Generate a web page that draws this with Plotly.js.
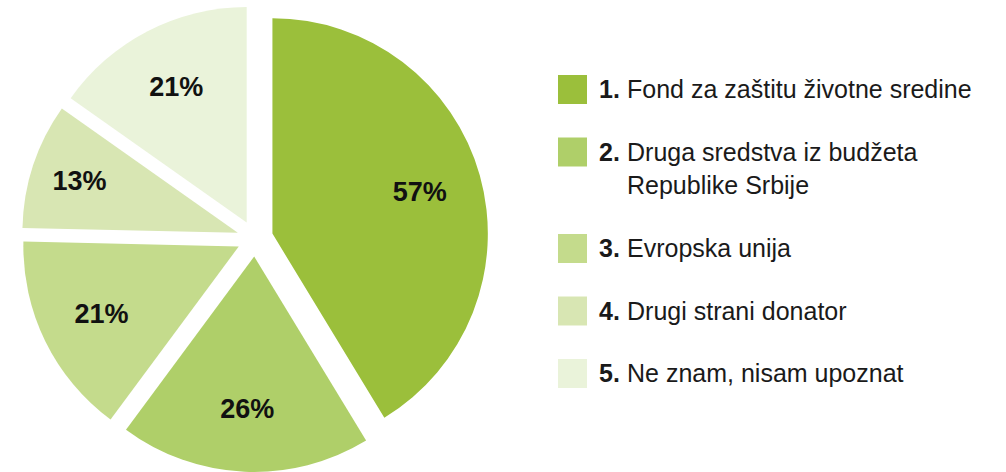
<!DOCTYPE html>
<html>
<head>
<meta charset="utf-8">
<script src="https://cdn.plot.ly/plotly-3.0.1.min.js"></script>
<style>
html, body { margin: 0; padding: 0; background: #ffffff; }
#chart { width: 1006px; height: 472px; }
</style>
</head>
<body>
<div id="chart"></div>
<script>
// ---- data ----
const legendNumbers = ['1.', '2.', '3.', '4.', '5.'];
const categories = [
  'Fond za zaštitu životne sredine',
  'Druga sredstva iz budžeta<br>Republike Srbije',
  'Evropska unija',
  'Drugi strani donator',
  'Ne znam, nisam upoznat'
];
const values = [57, 26, 21, 13, 21];
const colors = ['#9bbf3b', '#afcf69', '#c4db8c', '#d8e6b3', '#eaf3da'];

// ---- chart ----
const W = 1006, H = 472;
const pullAmount = 0.084;
const pieDomain = { x: [21.5 / W, 488.5 / W], y: [0, 467 / H] };

// filled slices
const pie = {
  type: 'pie',
  labels: categories,
  values: values,
  sort: false,
  direction: 'clockwise',
  rotation: 0,
  pull: values.map(() => pullAmount),
  marker: { colors: colors, line: { color: '#ffffff', width: 0 } },
  textinfo: 'none',
  hoverinfo: 'label+value',
  showlegend: false,
  domain: pieDomain
};

// transparent ring on top, only to place the value labels further out
const labelRing = {
  type: 'pie',
  labels: categories,
  values: values,
  sort: false,
  direction: 'clockwise',
  rotation: 0,
  hole: 0.42,
  pull: values.map(() => pullAmount),
  marker: { colors: values.map(() => 'rgba(0,0,0,0)'), line: { width: 0 } },
  texttemplate: '%{value}%',
  textposition: 'inside',
  insidetextorientation: 'horizontal',
  textfont: { family: 'Liberation Sans, Arial, sans-serif', size: 27, color: '#111111', weight: 'bold' },
  hoverinfo: 'skip',
  showlegend: false,
  domain: pieDomain
};

// custom legend built from the data arrays
const shapes = [];
const annotations = [];
const sqLeft = 558, sqSize = 29, firstTop = 75, step = 62.5, extraLine = 34;
let extra = 0;
categories.forEach((cat, i) => {
  const top = firstTop + step * i + extra;
  shapes.push({
    type: 'rect', xref: 'paper', yref: 'paper',
    x0: sqLeft / W, x1: (sqLeft + sqSize) / W,
    y0: 1 - (top + sqSize) / H, y1: 1 - top / H,
    fillcolor: colors[i], line: { width: 0 }
  });
  annotations.push({
    xref: 'paper', yref: 'paper', x: 597 / W, y: 1 - (top - 2) / H,
    xanchor: 'left', yanchor: 'top', align: 'left', showarrow: false,
    text: '<b>' + legendNumbers[i] + '</b>',
    font: { family: 'Liberation Sans, Arial, sans-serif', size: 25, color: '#1a1a1a' }
  });
  annotations.push({
    xref: 'paper', yref: 'paper', x: 625 / W, y: 1 - (top - 2) / H,
    xanchor: 'left', yanchor: 'top', align: 'left', showarrow: false,
    text: cat,
    font: { family: 'Liberation Sans, Arial, sans-serif', size: 25, color: '#1a1a1a' }
  });
  extra += (cat.split('<br>').length - 1) * extraLine;
});

const layout = {
  width: W, height: H,
  margin: { l: 0, r: 0, t: 0, b: 0 },
  paper_bgcolor: '#ffffff',
  plot_bgcolor: '#ffffff',
  showlegend: false,
  shapes: shapes,
  annotations: annotations
};

Plotly.newPlot('chart', [pie, labelRing], layout, { displayModeBar: false, staticPlot: true });
</script>
</body>
</html>
